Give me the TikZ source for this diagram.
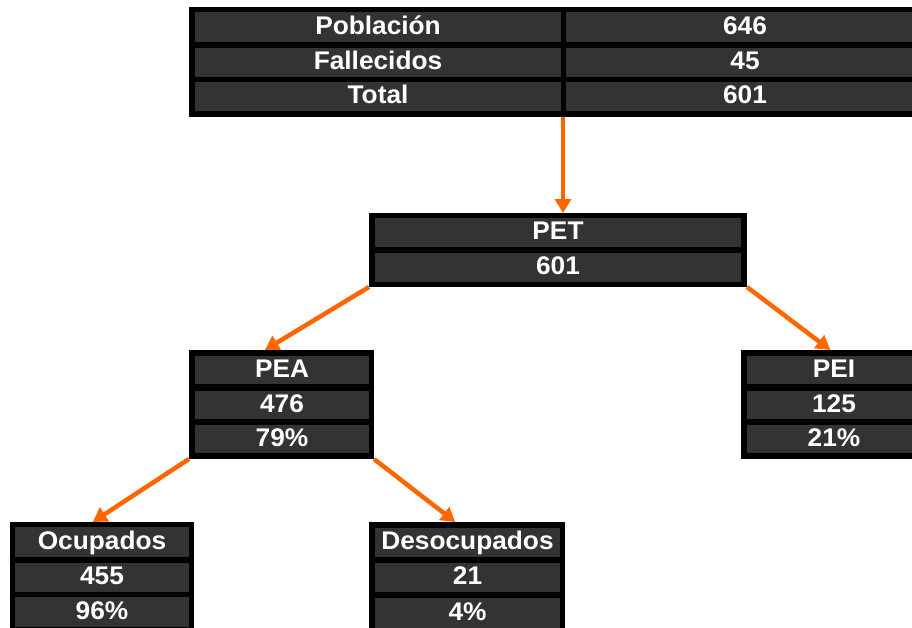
\documentclass[tikz,border=0pt]{standalone}
\usepackage{fontspec}
\setmainfont[FakeStretch=1.03]{Liberation Sans}
\usetikzlibrary{arrows.meta,calc,backgrounds}
\definecolor{cellgray}{HTML}{333333}
\definecolor{arrorange}{HTML}{FF6600}
\begin{document}
\begin{tikzpicture}[x=1pt,y=-1pt,
  frame/.style={fill=black, draw=none, inner sep=0pt, outer sep=0pt, anchor=north west},
  cell/.style={fill=cellgray, draw=none, text=white, inner sep=0pt, outer sep=0pt, anchor=north west,
    font=\bfseries\fontsize{25.5}{26}\selectfont, text height=18pt, text depth=4pt, align=center},
  conn/.style={draw=arrorange, line width=4.5pt, -{Triangle[length=14pt,width=16pt]}}]
\useasboundingbox (0,0) rectangle (912,627);
\clip (0,0) rectangle (912,627);
% top table
\node[frame, minimum width=741pt, minimum height=110pt] (tabla) at (189,7) {};
\node[cell, minimum width=366pt, minimum height=30pt] (pob) at (195,12) {Población};
\node[cell, minimum width=366pt, minimum height=29pt] (fal) at (195,48) {Fallecidos};
\node[cell, minimum width=366pt, minimum height=29pt] (tot) at (195,82) {Total};
\node[cell, minimum width=358pt, minimum height=30pt] (pobv) at (566,12) {646};
\node[cell, minimum width=358pt, minimum height=29pt] (falv) at (566,48) {45};
\node[cell, minimum width=358pt, minimum height=29pt] (totv) at (566,82) {601};
\coordinate (tblsplit) at (563,117);
% PET
\node[frame, minimum width=378pt, minimum height=74pt] (pet) at (369,213) {};
\node[cell, minimum width=366pt, minimum height=29pt] (petl) at (375,218) {PET};
\node[cell, minimum width=366pt, minimum height=29pt] (petv) at (375,253) {601};
% PEA
\node[frame, minimum width=185pt, minimum height=109pt] (pea) at (189,350) {};
\node[cell, minimum width=174pt, minimum height=28pt] (peal) at (195,356) {PEA};
\node[cell, minimum width=174pt, minimum height=28pt] (peav) at (195,391) {476};
\node[cell, minimum width=174pt, minimum height=28pt] (peap) at (195,425) {79\%};
% PEI
\node[frame, minimum width=186pt, minimum height=109pt] (pei) at (741,350) {};
\node[cell, minimum width=174pt, minimum height=28pt] (peil) at (747,356) {PEI};
\node[cell, minimum width=174pt, minimum height=28pt] (peiv) at (747,391) {125};
\node[cell, minimum width=174pt, minimum height=28pt] (peip) at (747,425) {21\%};
% Ocupados
\node[frame, minimum width=184pt, minimum height=115pt] (ocu) at (10,522) {};
\node[cell, minimum width=174pt, minimum height=30pt] (ocul) at (15,527) {Ocupados};
\node[cell, minimum width=174pt, minimum height=29pt] (ocuv) at (15,563) {455};
\node[cell, minimum width=174pt, minimum height=30pt] (ocup) at (15,597) {96\%};
% Desocupados
\node[frame, minimum width=196pt, minimum height=115pt] (deso) at (369,522) {};
\node[cell, minimum width=185pt, minimum height=29pt] (desol) at (375,528) {Desocupados};
\node[cell, minimum width=185pt, minimum height=29pt] (desov) at (375,563) {21};
\node[cell, minimum width=185pt, minimum height=30pt] (desop) at (375,598) {4\%};
% connectors
\begin{pgfonlayer}{background}
\draw[conn] (tblsplit) -- (tblsplit |- pet.north);
\draw[conn] (pet.south west) -- ($(pea.north west)!0.41!(pea.north east)$);
\draw[conn] (pet.south east) -- ($(pei.north west)!0.48!(pei.north east)$);
\draw[conn] (pea.south west) -- ($(ocu.north west)!0.45!(ocu.north east)$);
\draw[conn] (pea.south east) -- ($(deso.north west)!0.44!(deso.north east)$);
\end{pgfonlayer}
\end{tikzpicture}
\end{document}
